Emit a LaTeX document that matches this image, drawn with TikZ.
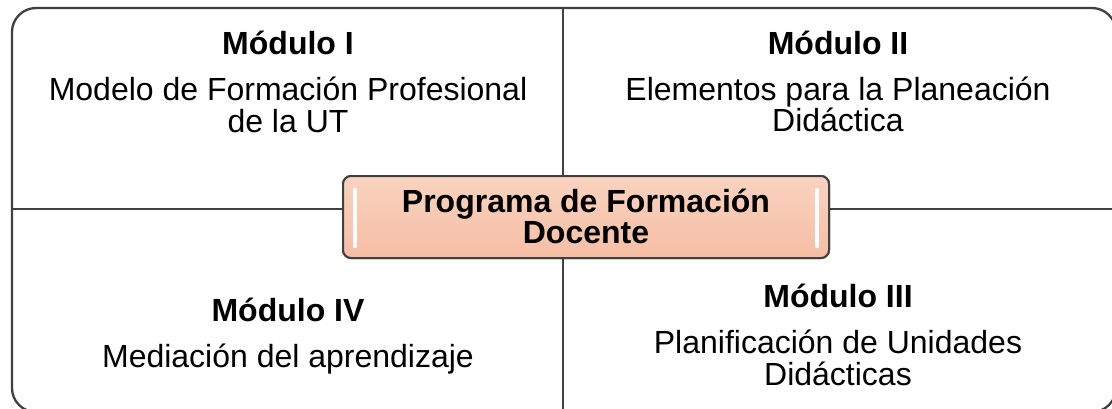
\documentclass[tikz,border=0pt]{standalone}
\usepackage{fontspec}
\setmainfont{Liberation Sans}
\definecolor{framec}{HTML}{404040}
\definecolor{peachtop}{HTML}{FAD3C0}
\definecolor{peachbot}{HTML}{F5BEA4}
\begin{document}
\begin{tikzpicture}[x=1pt,y=-1pt,
  frame/.style={draw=framec,line width=2.3pt},
  head/.style={font=\fontsize{32}{33}\selectfont\bfseries,anchor=base,inner sep=0pt},
  body/.style={font=\fontsize{32}{33}\selectfont,anchor=base,inner sep=0pt},
  centerbox/.style={draw=framec,line width=2pt,rounded corners=8pt,top color=peachtop,bottom color=peachbot,minimum width=486pt,minimum height=82pt,inner sep=0pt},
  gloss/.style={white,line width=4.5pt,line cap=round}]
\useasboundingbox (0,0) rectangle (1112,408);
\clip (0,0) rectangle (1112,408);
% outer frame
\draw[frame,rounded corners=24pt] (12,8) rectangle (1116,412);
% central box
\node[centerbox] (prog) at (586,217) {};
% anchors for dividers
\coordinate (vtop) at (563,8);
\coordinate (vbot) at (563,409);
\coordinate (hleft) at (12,209);
\coordinate (hright) at (1113,209);
\draw[frame] (vtop) -- (vtop |- prog.north);
\draw[frame] (prog.south -| vbot) -- (vbot);
\draw[frame] (hleft) -- (hleft -| prog.west);
\draw[frame] (prog.east |- hright) -- (hright);
% redraw box on top
\node[centerbox] (progtop) at (586,217) {};
\coordinate (gl1) at (355,190);
\coordinate (gl2) at (355,246);
\coordinate (gr1) at (817,190);
\coordinate (gr2) at (817,246);
\draw[gloss] (gl1) -- (gl2);
\draw[gloss] (gr1) -- (gr2);
\node[head] (pt1) at (586,212) {Programa de Formación};
\node[head] (pt2) at (586,243) {Docente};
% Module I
\node[head] (m1h) at (288,54) {Módulo I};
\node[body] (m1a) at (288,100) {Modelo de Formación Profesional};
\node[body] (m1b) at (288,132) {de la UT};
% Module II
\node[head] (m2h) at (838,54) {Módulo II};
\node[body] (m2a) at (838,100) {Elementos para la Planeación};
\node[body] (m2b) at (838,131) {Didáctica};
% Module IV
\node[head] (m4h) at (288,321) {Módulo IV};
\node[body] (m4a) at (288,367) {Mediación del aprendizaje};
% Module III
\node[head] (m3h) at (838,307) {Módulo III};
\node[body] (m3a) at (838,353) {Planificación de Unidades};
\node[body] (m3b) at (838,385) {Didácticas};
\end{tikzpicture}
\end{document}
